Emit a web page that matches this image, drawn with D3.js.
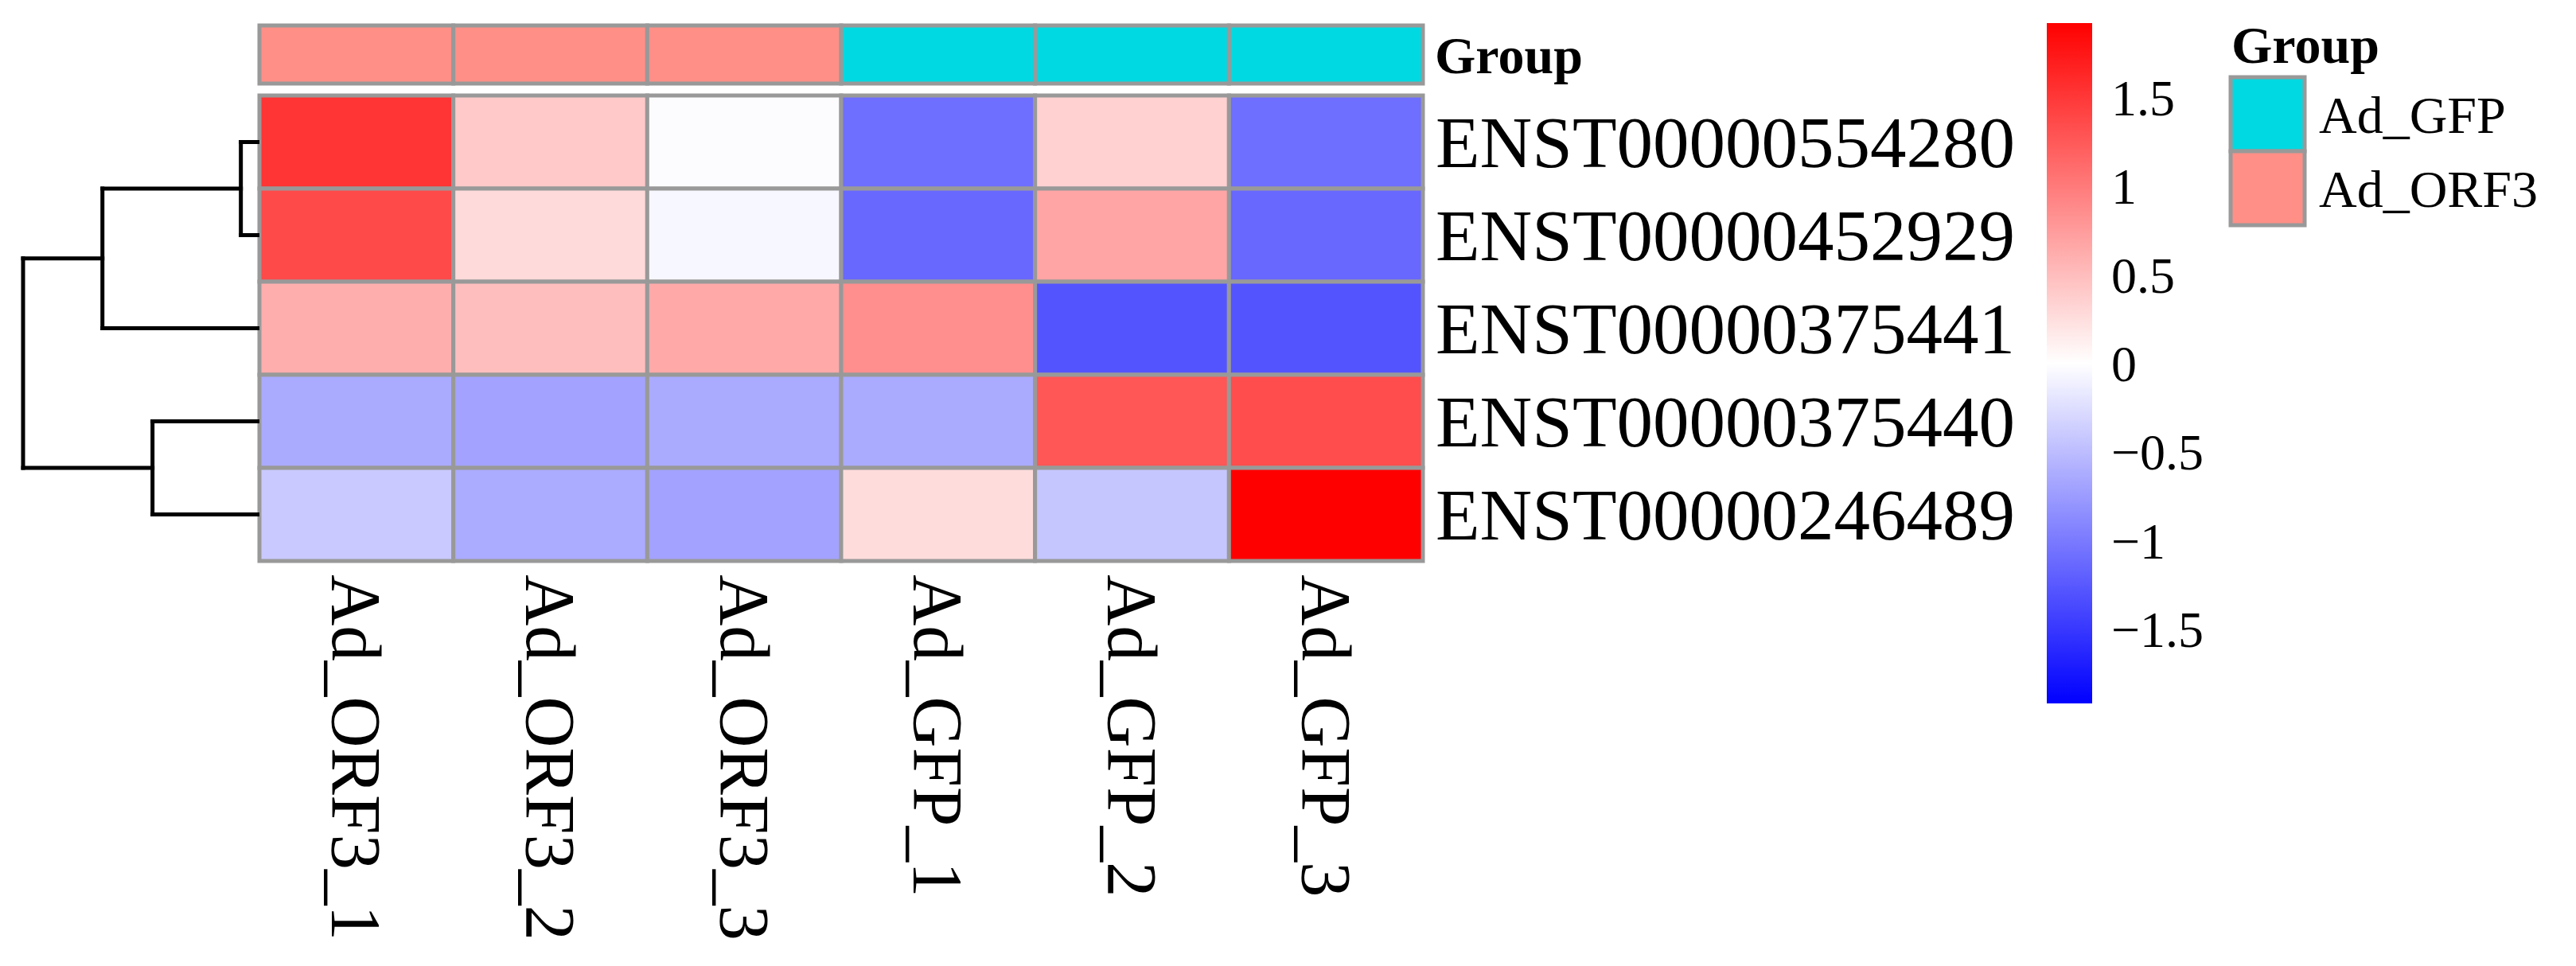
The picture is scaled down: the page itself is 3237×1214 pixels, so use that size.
<!DOCTYPE html>
<html>
<head>
<meta charset="utf-8">
<script src="https://cdn.jsdelivr.net/npm/d3@7"></script>
<style>
  html, body { margin: 0; padding: 0; background: #ffffff; }
  svg { display: block; }
  text { font-family: "Liberation Serif", "Times New Roman", serif; fill: #000; }
</style>
</head>
<body>
<svg id="chart" width="3237" height="1214"></svg>
<script>
// ---------------- data ----------------
const rowLabels = ["ENST00000554280", "ENST00000452929", "ENST00000375441", "ENST00000375440", "ENST00000246489"];
const colLabels = ["Ad_ORF3_1", "Ad_ORF3_2", "Ad_ORF3_3", "Ad_GFP_1", "Ad_GFP_2", "Ad_GFP_3"];
const colGroups = ["Ad_ORF3", "Ad_ORF3", "Ad_ORF3", "Ad_GFP", "Ad_GFP", "Ad_GFP"];
const row1 = [1.52, 0.41, -0.02, -1.09, 0.35, -1.09];
const row2 = [1.36, 0.28, -0.06, -1.14, 0.68, -1.14];
const row3 = [0.61, 0.49, 0.65, 0.85, -1.29, -1.29];
const row4 = [-0.64, -0.69, -0.64, -0.64, 1.27, 1.34];
const row5 = [-0.41, -0.63, -0.69, 0.26, -0.43, 1.92];
const values = [row1, row2, row3, row4, row5];
const colorTicks = [1.5, 1, 0.5, 0, -0.5, -1, -1.5];
const legendGroups = ["Ad_GFP", "Ad_ORF3"];
const groupColors = ["#00D9E1", "#FF8F87"];
const colorDomain = [-1.92, 0, 1.92];
// row dendrogram (merge heights, leaves are row indices)
const dendro = { h: 4.2, children: [
  { h: 2.79, children: [ { h: 0.33, children: [ { leaf: 0, h: 0 }, { leaf: 1, h: 0 } ] }, { leaf: 2, h: 0 } ] },
  { h: 1.9, children: [ { leaf: 3, h: 0 }, { leaf: 4, h: 0 } ] }
] };

// ---------------- layout ----------------
const svg = d3.select("#chart");
const border = "#999999";
const hm = { left: 326, right: 1788, top: 120, bottom: 705 };
const ann = { top: 32, bottom: 105 };

const x = d3.scaleBand().domain(colLabels).range([hm.left, hm.right]);
const y = d3.scaleBand().domain(rowLabels).range([hm.top, hm.bottom]);
const color = d3.scaleLinear().domain(colorDomain).range(["#0000FF", "#FFFFFF", "#FF0000"]);
const groupColor = d3.scaleOrdinal().domain(legendGroups).range(groupColors);

// annotation bar
svg.append("g").selectAll("rect").data(colLabels).join("rect")
  .attr("x", d => x(d)).attr("y", ann.top)
  .attr("width", x.bandwidth()).attr("height", ann.bottom - ann.top)
  .attr("fill", (d, i) => groupColor(colGroups[i]))
  .attr("stroke", border).attr("stroke-width", 5);

svg.append("text").attr("x", 1803).attr("y", (ann.top + ann.bottom) / 2)
  .attr("dy", "0.35em").attr("font-size", 66).attr("font-weight", "bold").text("Group");

// heatmap cells
const cells = [];
values.forEach((r, i) => r.forEach((v, j) => cells.push({ row: rowLabels[i], col: colLabels[j], v })));
svg.append("g").selectAll("rect").data(cells).join("rect")
  .attr("x", d => x(d.col)).attr("y", d => y(d.row))
  .attr("width", x.bandwidth()).attr("height", y.bandwidth())
  .attr("fill", d => color(d.v))
  .attr("stroke", border).attr("stroke-width", 5);

// row labels
svg.append("g").selectAll("text").data(rowLabels).join("text")
  .attr("x", 1804).attr("y", d => y(d) + y.bandwidth() / 2)
  .attr("dy", "0.35em").attr("font-size", 91).text(d => d);

// column labels (rotated, reading downward)
svg.append("g").selectAll("text").data(colLabels).join("text")
  .attr("transform", d => `translate(${x(d) + x.bandwidth() / 2},722) rotate(90)`)
  .attr("dy", "0.33em").attr("font-size", 89).text(d => d);

// dendrogram
const root = d3.hierarchy(dendro);
const hx = d3.scaleLinear().domain([0, dendro.h]).range([hm.left, 29]);
root.eachAfter(n => {
  if (n.data.leaf !== undefined) n.yy = y(rowLabels[n.data.leaf]) + y.bandwidth() / 2;
  else n.yy = d3.mean(n.children, c => c.yy);
});
const dg = svg.append("g").attr("stroke", "#000").attr("stroke-width", 5).attr("fill", "none").attr("stroke-linecap", "square");
root.each(n => {
  if (!n.children) return;
  const xp = hx(n.data.h);
  const ys = n.children.map(c => c.yy);
  dg.append("line").attr("x1", xp).attr("x2", xp).attr("y1", d3.min(ys)).attr("y2", d3.max(ys));
  n.children.forEach(c => {
    dg.append("line").attr("x1", xp).attr("x2", c.children ? hx(c.data.h) : hm.left - 2.5)
      .attr("y1", c.yy).attr("y2", c.yy);
  });
});

// color bar
const cb = { left: 2572, right: 2629, top: 29, bottom: 884 };
const cy = d3.scaleLinear().domain([colorDomain[0], colorDomain[2]]).range([cb.bottom, cb.top]);
const defs = svg.append("defs");
const grad = defs.append("linearGradient").attr("id", "cbgrad")
  .attr("x1", 0).attr("y1", 1).attr("x2", 0).attr("y2", 0);
colorDomain.forEach((d, i) => grad.append("stop")
  .attr("offset", i / (colorDomain.length - 1)).attr("stop-color", color(d)));
svg.append("rect").attr("x", cb.left).attr("y", cb.top)
  .attr("width", cb.right - cb.left).attr("height", cb.bottom - cb.top)
  .attr("fill", "url(#cbgrad)");
svg.append("g").selectAll("text").data(colorTicks).join("text")
  .attr("x", 2653).attr("y", d => cy(d)).attr("dy", "0.35em")
  .attr("font-size", 64)
  .text(d => d < 0 ? "\u2212" + Math.abs(d) : String(d));

// group legend
svg.append("text").attr("x", 2804).attr("y", 79).attr("font-size", 66)
  .attr("font-weight", "bold").text("Group");
const ly = d3.scaleBand().domain(legendGroups).range([97, 283]);
svg.append("g").selectAll("rect").data(legendGroups).join("rect")
  .attr("x", 2803).attr("y", d => ly(d))
  .attr("width", 93).attr("height", ly.bandwidth())
  .attr("fill", d => groupColor(d)).attr("stroke", border).attr("stroke-width", 5);
svg.append("g").selectAll("text").data(legendGroups).join("text")
  .attr("x", 2914).attr("y", d => ly(d) + ly.bandwidth() / 2).attr("dy", "0.35em")
  .attr("font-size", 66).text(d => d);
</script>
</body>
</html>
